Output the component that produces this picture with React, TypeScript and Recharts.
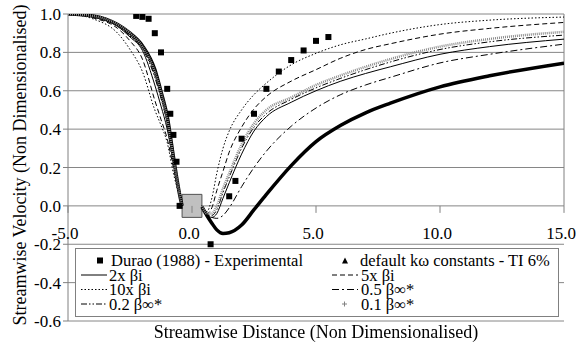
import { ComposedChart, Line, Scatter, XAxis, YAxis, CartesianGrid, ReferenceArea, ReferenceLine } from 'recharts';

// shared x positions for the CFD curves (null at 0 = the body, lines break there)
const curveX = [-5, -4, -3, -2.5, -2, -1.5, -1.25, -1, -0.75, -0.5, -0.4, 0, 0.4, 0.6, 0.8, 1, 1.25, 1.5, 2, 2.5, 3, 4, 5, 6, 7, 8, 10, 12, 15];

const defaultKw = [1.0, 0.99, 0.945, 0.9, 0.835, 0.71, 0.595, 0.465, 0.256, 0.06, 0.0, null, -0.005, -0.05, -0.09, -0.125, -0.144, -0.14, -0.1, -0.02, 0.06, 0.21, 0.335, 0.42, 0.485, 0.535, 0.62, 0.678, 0.744];
const beta2x = [1.0, 0.985, 0.935, 0.88, 0.81, 0.63, 0.52, 0.4, 0.23, 0.055, 0.0, null, 0.0, -0.045, -0.06, -0.04, 0.04, 0.12, 0.27, 0.39, 0.465, 0.54, 0.6, 0.65, 0.69, 0.725, 0.79, 0.83, 0.869];
const beta5x = [1.0, 0.98, 0.925, 0.86, 0.765, 0.55, 0.45, 0.35, 0.2, 0.05, 0.0, null, 0.0, -0.04, -0.01, 0.08, 0.18, 0.28, 0.41, 0.505, 0.57, 0.65, 0.71, 0.77, 0.815, 0.845, 0.895, 0.925, 0.956];
const beta10x = [1.0, 0.975, 0.9, 0.815, 0.7, 0.5, 0.42, 0.33, 0.17, 0.045, 0.0, null, 0.0, -0.03, 0.04, 0.17, 0.3, 0.39, 0.5, 0.58, 0.64, 0.735, 0.795, 0.84, 0.87, 0.9, 0.945, 0.968, 0.984];
const star05 = [1.0, 0.99, 0.94, 0.89, 0.825, 0.68, 0.57, 0.44, 0.24, 0.058, 0.0, null, 0.0, -0.04, -0.06, -0.065, -0.05, -0.01, 0.1, 0.2, 0.285, 0.415, 0.51, 0.58, 0.63, 0.67, 0.745, 0.79, 0.843];
const star02 = [1.0, 0.99, 0.94, 0.885, 0.82, 0.67, 0.56, 0.43, 0.235, 0.056, 0.0, null, 0.0, -0.045, -0.05, -0.02, 0.07, 0.15, 0.3, 0.41, 0.48, 0.555, 0.615, 0.665, 0.71, 0.75, 0.815, 0.855, 0.89];
const star01 = [1.0, 0.99, 0.945, 0.9, 0.83, 0.7, 0.59, 0.455, 0.25, 0.06, 0.0, null, 0.0, -0.04, -0.04, 0.0, 0.09, 0.17, 0.32, 0.43, 0.5, 0.565, 0.63, 0.68, 0.725, 0.765, 0.83, 0.87, 0.907];

// Durao (1988) experimental points
const duraoX = [-2.25, -2, -1.75, -1.5, -1.25, -1, -0.875, -0.75, -0.625, -0.5, 0.75, 1.5, 1.75, 2, 2.5, 3, 3.5, 4, 4.5, 5, 5.5];
const duraoY = [0.99, 0.985, 0.975, 0.9, 0.8, 0.61, 0.48, 0.37, 0.23, 0.0, -0.2, 0.05, 0.13, 0.35, 0.48, 0.61, 0.7, 0.76, 0.81, 0.86, 0.88];

const xTicks = [-5, 0, 5, 10, 15];
const yTicks = [-0.6, -0.4, -0.2, 0, 0.2, 0.4, 0.6, 0.8, 1.0];

const curveRows = curveX.map((x, i) => ({
  x,
  d: defaultKw[i],
  b2: beta2x[i],
  b5: beta5x[i],
  b10: beta10x[i],
  s05: star05[i],
  s02: star02[i],
  s01: star01[i],
}));
const duraoRows = duraoX.map((x, i) => ({ x, y: duraoY[i] }));

const FONT = 'Liberation Serif, DejaVu Serif, serif';
const W = 585;
const H = 342;
const TOP = 14;
const XAXIS_H = 21;
const PLOT_BOTTOM = H - XAXIS_H;
const ZERO_Y = PLOT_BOTTOM - (PLOT_BOTTOM - TOP) * (0.6 / 1.6);

// x axis crosses at y = 0, so ticks and labels are drawn up there
function XTick({ x, payload }: any) {
  return (
    <g>
      <line x1={x} x2={x} y1={ZERO_Y} y2={ZERO_Y + 7} stroke="#808080" />
      <text x={x - 3} y={ZERO_Y + 33} textAnchor="middle" fontSize={17} fontFamily={FONT} fill="#000">
        {payload.value.toFixed(1)}
      </text>
    </g>
  );
}

const DuraoMark = ({ cx, cy }: any) => <rect x={cx - 3} y={cy - 3} width={6} height={6} fill="#000" />;

function LegendBox() {
  const rows = [12.5, 27, 41.5, 56];
  const tx = { fontSize: 16.5, fontFamily: FONT, fill: '#000', dominantBaseline: 'central' } as any;
  const sym = (x: number, y: number, dash?: string) => (
    <line x1={x} x2={x + 26} y1={y} y2={y} stroke="#000" strokeWidth={1} strokeDasharray={dash} />
  );
  return (
    <svg width={484} height={69} style={{ position: 'absolute', left: 75, top: 248 }}>
      <rect x={0.5} y={0.5} width={483} height={68} fill="#fff" stroke="#808080" />
      <rect x={22} y={rows[0] - 3} width={6} height={6} fill="#000" />
      <text x={36} y={rows[0]} {...tx}>Durao (1988) - Experimental</text>
      <path d={`M267 ${rows[0] + 3} L270 ${rows[0] - 3} L273 ${rows[0] + 3} Z`} fill="#000" />
      <text x={285} y={rows[0]} {...tx}>default kω constants - TI 6%</text>

      {sym(6, rows[1])}
      <text x={34} y={rows[1]} {...tx}>2x βi</text>
      {sym(257, rows[1], '5 3')}
      <text x={286} y={rows[1]} {...tx}>5x βi</text>

      {sym(6, rows[2], '1.5 2')}
      <text x={34} y={rows[2]} {...tx}>10x βi</text>
      {sym(257, rows[2], '7 3 2 3')}
      <text x={286} y={rows[2]} {...tx}>0.5 β∞*</text>

      {sym(6, rows[3], '6 2 1.5 2 1.5 2')}
      <text x={34} y={rows[3]} {...tx}>0.2 β∞*</text>
      <path d={`M267 ${rows[3]} h5 M269.5 ${rows[3] - 2.5} v5`} stroke="#808080" />
      <text x={286} y={rows[3]} {...tx}>0.1 β∞*</text>
    </svg>
  );
}

export default function App() {
  return (
    <div style={{ position: 'fixed', left: 0, top: 0, width: W, height: H, background: '#fff', fontFamily: FONT }}>
      <ComposedChart width={W} height={H} margin={{ top: TOP, right: 21, bottom: 0, left: 0 }}>
        <CartesianGrid horizontal vertical={false} stroke="#868686" />
        <XAxis
          type="number"
          dataKey="x"
          domain={[-5, 15]}
          ticks={xTicks}
          height={XAXIS_H}
          axisLine={false}
          tickLine={false}
          tick={<XTick />}
          allowDataOverflow
        />
        <YAxis
          type="number"
          domain={[-0.6, 1.0]}
          ticks={yTicks}
          width={68}
          stroke="#808080"
          tickSize={5}
          tickMargin={2}
          tick={{ fill: '#000', fontSize: 17, fontFamily: FONT }}
          tickFormatter={(v: number) => v.toFixed(1)}
          allowDataOverflow
        />
        <ReferenceLine segment={[{ x: 15, y: 0 }, { x: 15, y: 1 }]} stroke="#808080" />
        <Line data={curveRows} dataKey="d" type="monotone" stroke="#000" strokeWidth={3.5} dot={false} isAnimationActive={false} />
        <Line data={curveRows} dataKey="b2" type="monotone" stroke="#000" strokeWidth={1} dot={false} isAnimationActive={false} />
        <Line data={curveRows} dataKey="b5" type="monotone" stroke="#000" strokeWidth={1} strokeDasharray="5 3" dot={false} isAnimationActive={false} />
        <Line data={curveRows} dataKey="b10" type="monotone" stroke="#000" strokeWidth={1} strokeDasharray="1.5 2" dot={false} isAnimationActive={false} />
        <Line data={curveRows} dataKey="s05" type="monotone" stroke="#000" strokeWidth={1} strokeDasharray="7 3 2 3" dot={false} isAnimationActive={false} />
        <Line data={curveRows} dataKey="s02" type="monotone" stroke="#000" strokeWidth={1} strokeDasharray="6 2 1.5 2 1.5 2" dot={false} isAnimationActive={false} />
        <Line data={curveRows} dataKey="s01" type="monotone" stroke="#8c8c8c" strokeWidth={2.5} strokeDasharray="1 1" dot={false} isAnimationActive={false} />
        <Scatter data={duraoRows} dataKey="y" shape={<DuraoMark />} isAnimationActive={false} />
        <ReferenceArea x1={-0.4} x2={0.4} y1={-0.06} y2={0.06} fill="#c0c0c0" fillOpacity={1} stroke="#505050" />
      </ComposedChart>
      <LegendBox />
      <div
        style={{
          position: 'absolute',
          left: 20,
          top: 165,
          transform: 'translate(-50%, -50%) rotate(-90deg)',
          whiteSpace: 'nowrap',
          fontSize: 18,
        }}
      >
        Streamwise Velocity (Non Dimensionalised)
      </div>
      <div
        style={{
          position: 'absolute',
          left: 316,
          top: 332,
          transform: 'translate(-50%, -50%)',
          whiteSpace: 'nowrap',
          fontSize: 18,
        }}
      >
        Streamwise Distance (Non Dimensionalised)
      </div>
    </div>
  );
}
